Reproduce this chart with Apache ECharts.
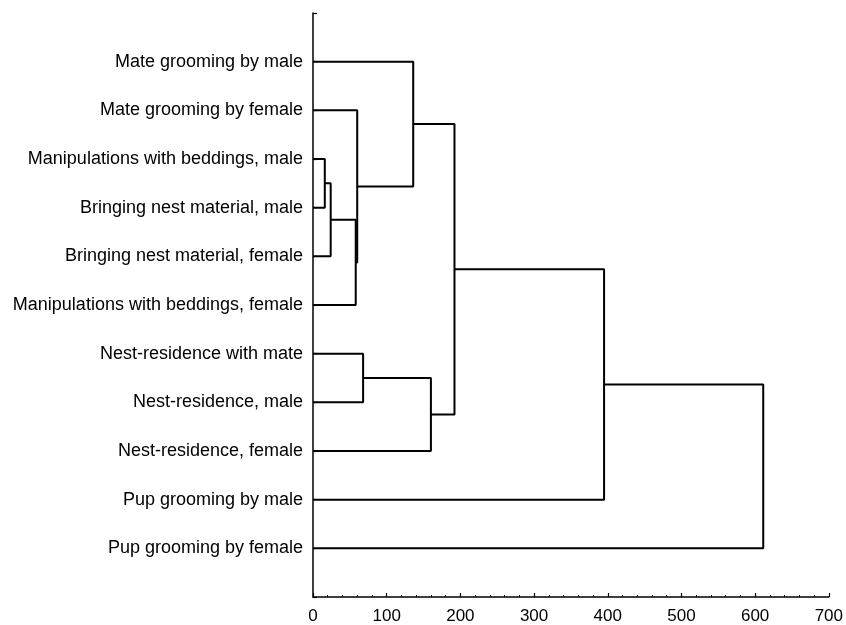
<!DOCTYPE html>
<html>
<head>
<meta charset="utf-8">
<script src="https://cdn.jsdelivr.net/npm/echarts@6/dist/echarts.min.js"></script>
<style>
html,body{margin:0;padding:0;background:#fff;}
#chart{width:846px;height:625px;}
</style>
</head>
<body>
<div id="chart"></div>
<script>
// Leaves, top to bottom
var leafLabels = [
  "Mate grooming by male",
  "Mate grooming by female",
  "Manipulations with beddings, male",
  "Bringing nest material, male",
  "Bringing nest material, female",
  "Manipulations with beddings, female",
  "Nest-residence with mate",
  "Nest-residence, male",
  "Nest-residence, female",
  "Pup grooming by male",
  "Pup grooming by female"
];
// Merges: children are leaf indices (numbers) or earlier merges ("m0", "m1", ...)
var mergeLeft   = [2,    "m0", "m1", 1,    0,    6,    "m5", "m4", "m7", "m8"];
var mergeRight  = [3,    4,    5,    "m2", "m3", 7,    8,    "m6", 9,    10  ];
var mergeHeight = [16,   24,   58,   60,   136,  68,   160,  192,  395,  611 ];
var xTicks = [0, 100, 200, 300, 400, 500, 600, 700];

var merges = [];
function node(ref) {
  if (typeof ref === "number") return { y: ref + 1, h: 0 };
  return merges[parseInt(ref.slice(1), 10)];
}
var series = [];
for (var i = 0; i < mergeHeight.length; i++) {
  var a = node(mergeLeft[i]), b = node(mergeRight[i]), h = mergeHeight[i];
  merges.push({ y: (a.y + b.y) / 2, h: h });
  series.push({
    type: "line",
    data: [[a.h, a.y], [h, a.y], [h, b.y], [b.h, b.y]],
    symbol: "none",
    silent: true,
    animation: false,
    lineStyle: { color: "#000", width: 2 }
  });
}

var chart = echarts.init(document.getElementById("chart"), null, { renderer: "canvas" });
chart.setOption({
  backgroundColor: "#fff",
  animation: false,
  textStyle: { fontFamily: "Liberation Sans, Arial, sans-serif" },
  grid: { left: 313, right: 13, top: 13, bottom: 27, containLabel: false },
  xAxis: {
    type: "value",
    position: "bottom",
    min: xTicks[0],
    max: xTicks[xTicks.length - 1],
    interval: 100,
    axisLine: { show: true, onZero: false, lineStyle: { color: "#000", width: 1.5 } },
    axisTick: { show: true, inside: true, length: 4, lineStyle: { color: "#000", width: 1.2 } },
    minorTick: { show: true, splitNumber: 5, length: 2, lineStyle: { color: "#000", width: 1 } },
    splitLine: { show: false },
    axisLabel: { color: "#000", fontSize: 17, margin: 11, fontFamily: "Liberation Sans, Arial, sans-serif" }
  },
  yAxis: {
    type: "value",
    inverse: true,
    min: 0,
    max: leafLabels.length + 1,
    interval: 1,
    axisLine: { show: true, onZero: false, lineStyle: { color: "#000", width: 1.5 } },
    axisTick: { show: true, inside: true, length: 4, lineStyle: { color: "#000", width: 1.2 } },
    splitLine: { show: false },
    axisLabel: {
      color: "#000",
      fontSize: 18,
      margin: 10,
      fontFamily: "Liberation Sans, Arial, sans-serif",
      formatter: function (v) {
        var k = Math.round(v) - 1;
        return (k >= 0 && k < leafLabels.length) ? leafLabels[k] : "";
      }
    }
  },
  series: series
});
</script>
</body>
</html>
